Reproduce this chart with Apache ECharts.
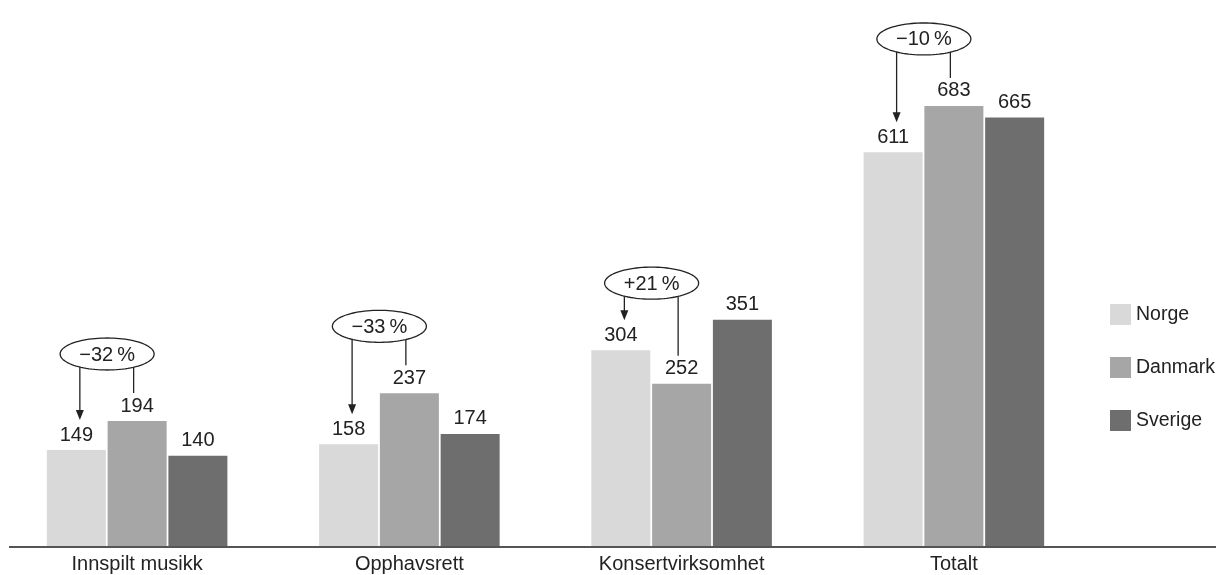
<!DOCTYPE html>
<html>
<head>
<meta charset="utf-8">
<script src="https://cdn.jsdelivr.net/npm/echarts@6/dist/echarts.min.js"></script>
<style>
html,body{margin:0;padding:0;background:#fff;}
#main{width:1216px;height:575px;}
</style>
</head>
<body>
<div id="main"></div>
<script>
const categories = ['Innspilt musikk', 'Opphavsrett', 'Konsertvirksomhet', 'Totalt'];
const norge = [149, 158, 304, 611];
const danmark = [194, 237, 252, 683];
const sverige = [140, 174, 351, 665];
const changeLabels = ['\u221232\u2009%', '\u221233\u2009%', '+21\u2009%', '\u221210\u2009%'];

const FONT = '"Liberation Sans", Arial, Helvetica, sans-serif';
const TXT = '#222';
const colors = ['#d9d9d9', '#a6a6a6', '#6e6e6e'];

const chart = echarts.init(document.getElementById('main'), null, {renderer: 'canvas'});

function barSeries(name, data, color) {
  return {
    name: name,
    type: 'bar',
    data: data,
    barWidth: 59,
    barGap: '3%',
    itemStyle: {color: color},
    label: {
      show: true,
      position: 'top',
      distance: 5,
      fontFamily: FONT,
      fontSize: 20,
      color: TXT
    },
    emphasis: {disabled: true},
    animation: false
  };
}

chart.setOption({
  animation: false,
  textStyle: {fontFamily: FONT},
  grid: {left: 1, width: 1089, top: 95, bottom: 29, containLabel: false},
  legend: {
    orient: 'vertical',
    left: 1105,
    top: 299,
    itemWidth: 21,
    itemHeight: 21,
    itemGap: 32,
    icon: 'rect',
    selectedMode: false,
    textStyle: {fontFamily: FONT, fontSize: 19.5, color: TXT},
    data: ['Norge', 'Danmark', 'Sverige']
  },
  xAxis: {
    type: 'category',
    data: categories,
    axisLine: {show: false},
    axisTick: {show: false},
    axisLabel: {fontFamily: FONT, fontSize: 20, color: TXT, margin: 8}
  },
  yAxis: {
    type: 'value',
    min: 0,
    max: 700,
    show: false,
    splitLine: {show: false}
  },
  series: [
    barSeries('Norge', norge, colors[0]),
    barSeries('Danmark', danmark, colors[1]),
    barSeries('Sverige', sverige, colors[2])
  ]
});

function buildGraphics() {
  const model = chart.getModel();
  const d0 = model.getSeriesByIndex(0).getData();
  const d1 = model.getSeriesByIndex(1).getData();
  const base = chart.convertToPixel({yAxisIndex: 0}, 0);
  const els = [];
  els.push({
    type: 'line', silent: true, z: 10,
    shape: {x1: 9, y1: base + 1, x2: 1216, y2: base + 1},
    style: {stroke: '#555', lineWidth: 2}
  });
  const a = 47, b = 16;
  for (let i = 0; i < categories.length; i++) {
    const l0 = d0.getItemLayout(i);
    const l1 = d1.getItemLayout(i);
    const c0 = l0.x + l0.width / 2;
    const c1 = l1.x + l1.width / 2;
    const top0 = l0.y + l0.height;
    const top1 = l1.y + l1.height;
    const gc = chart.convertToPixel({xAxisIndex: 0}, i);
    const cx = gc - 30;
    const cy = Math.min(top0, top1) - 67;
    const pts = [];
    for (let k = 0; k < 96; k++) {
      const t = k / 96 * Math.PI * 2;
      pts.push([cx + a * Math.cos(t), cy + b * Math.sin(t)]);
    }
    const ax = c0 + 3.5;
    const lx = c1 - 3.5;
    const edge = function (x) {
      const dx = (x - cx) / a;
      return cy + b * Math.sqrt(Math.max(0, 1 - dx * dx));
    };
    const tip = top0 - 30;
    els.push({
      type: 'line', silent: true, z: 10,
      shape: {x1: ax, y1: edge(ax), x2: ax, y2: tip - 6},
      style: {stroke: TXT, lineWidth: 1.3}
    });
    els.push({
      type: 'polygon', silent: true, z: 10,
      shape: {points: [[ax - 4, tip - 10], [ax + 4, tip - 10], [ax, tip]]},
      style: {fill: TXT}
    });
    els.push({
      type: 'line', silent: true, z: 10,
      shape: {x1: lx, y1: edge(lx), x2: lx, y2: top1 - 28},
      style: {stroke: TXT, lineWidth: 1.3}
    });
    els.push({
      type: 'polygon', silent: true, z: 11,
      shape: {points: pts},
      style: {fill: '#fff', stroke: TXT, lineWidth: 1.3}
    });
    els.push({
      type: 'text', silent: true, z: 12,
      x: cx, y: cy + 1,
      style: {
        text: changeLabels[i],
        font: '20px ' + FONT,
        fill: TXT,
        align: 'center',
        verticalAlign: 'middle',
        textAlign: 'center',
        textVerticalAlign: 'middle'
      }
    });
  }
  chart.setOption({graphic: {elements: els}});
}
buildGraphics();
</script>
</body>
</html>
